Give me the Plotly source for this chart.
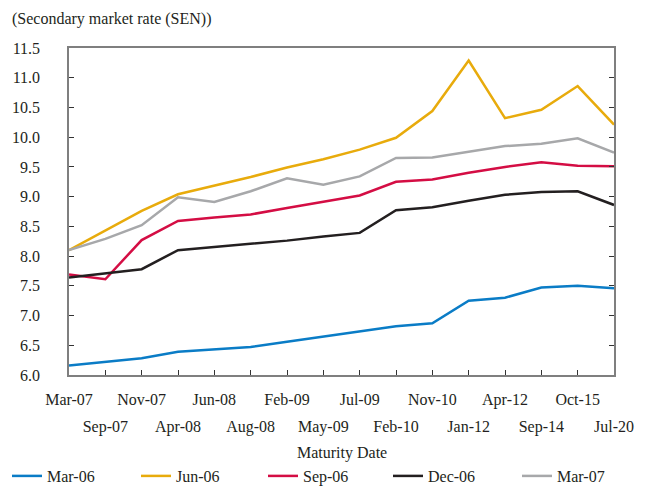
import plotly.graph_objects as go

# Maturity dates of the bonds (x axis categories)
maturities = ["Mar-07", "Sep-07", "Nov-07", "Apr-08", "Jun-08", "Aug-08", "Feb-09", "May-09",
              "Jul-09", "Feb-10", "Nov-10", "Jan-12", "Apr-12", "Sep-14", "Oct-15", "Jul-20"]

# Secondary market rates by observation date
mar06 = [6.16, 6.22, 6.28, 6.39, 6.43, 6.47, 6.56, 6.65, 6.74, 6.82, 6.87, 7.25, 7.30, 7.47, 7.50, 7.46]
jun06 = [8.10, 8.43, 8.76, 9.04, 9.18, 9.33, 9.49, 9.63, 9.79, 9.99, 10.44, 11.29, 10.32, 10.46, 10.86, 10.21]
sep06 = [7.69, 7.61, 8.27, 8.59, 8.65, 8.70, 8.81, 8.92, 9.02, 9.25, 9.29, 9.40, 9.50, 9.58, 9.52, 9.51]
dec06 = [7.64, 7.71, 7.78, 8.10, 8.15, 8.20, 8.26, 8.33, 8.39, 8.77, 8.82, 8.93, 9.03, 9.08, 9.09, 8.86]
mar07 = [8.10, 8.29, 8.52, 8.99, 8.91, 9.09, 9.31, 9.20, 9.34, 9.65, 9.66, 9.76, 9.85, 9.89, 9.98, 9.74]

series = [
    ("Mar-06", mar06, "#0a7cc6"),
    ("Jun-06", jun06, "#e8ab0c"),
    ("Sep-06", sep06, "#d40d44"),
    ("Dec-06", dec06, "#231f20"),
    ("Mar-07", mar07, "#a7a8aa"),
]

# left edge (px) of each legend entry along the bottom row
legend_left_px = [7, 136, 263, 388, 517]

idx = list(range(len(maturities)))
odd_idx = idx[1::2]

FONT = "Liberation Serif, Times New Roman, serif"
TXT = "#231f20"
AX = "#7f7f7f"
W, H = 649, 486
M_L, M_R, M_T, M_B = 69, 35, 48, 111
PLOT_H = H - M_T - M_B

fig = go.Figure()
legend_layout = {}
for k, (name, vals, color) in enumerate(series):
    lg = "legend" if k == 0 else f"legend{k + 1}"
    fig.add_trace(go.Scatter(
        x=idx, y=vals, name=name, mode="lines", legend=lg,
        line=dict(color=color, width=2.5),
    ))
    legend_layout[lg] = dict(
        orientation="h", xref="container", yref="container",
        x=legend_left_px[k] / W, xanchor="left", y=10 / H, yanchor="middle",
        bgcolor="rgba(0,0,0,0)",
        font=dict(family=FONT, size=16, color=TXT),
    )
# empty trace so the second (lower) label row axis is drawn
fig.add_trace(go.Scatter(x=[], y=[], xaxis="x2", showlegend=False, hoverinfo="skip"))

fig.update_layout(
    width=W, height=H,
    margin=dict(l=M_L, r=M_R, t=M_T, b=M_B),
    paper_bgcolor="white", plot_bgcolor="white",
    font=dict(family=FONT, size=16, color=TXT),
    title=dict(text="(Secondary market rate (SEN))", xref="container", yref="container",
               x=12 / W, xanchor="left", y=1 - 18 / H, yanchor="middle",
               font=dict(family=FONT, size=16, color=TXT)),
    showlegend=True,
    xaxis=dict(
        range=[0, len(maturities) - 1], automargin=False,
        tickmode="array", tickvals=idx,
        ticktext=[maturities[i] if i % 2 == 0 else "" for i in idx],
        tickangle=0, ticklabelstandoff=9,
        ticks="inside", ticklen=5, tickcolor="#333", tickwidth=1,
        showline=True, linecolor=AX, linewidth=1.5, mirror=True,
        showgrid=False, zeroline=False,
    ),
    xaxis2=dict(
        overlaying="x", anchor="y", side="bottom", matches="x",
        range=[0, len(maturities) - 1], automargin=False,
        tickmode="array", tickvals=odd_idx, ticktext=[maturities[i] for i in odd_idx],
        tickangle=0, ticklabelstandoff=40, ticks="",
        showline=False, showgrid=False, zeroline=False,
    ),
    yaxis=dict(
        range=[6.0, 11.5], dtick=0.5, tick0=6.0, tickformat=".1f", automargin=False,
        ticks="inside", ticklen=5, tickcolor="#333", tickwidth=1,
        showline=True, linecolor=AX, linewidth=1.5, mirror="ticks",
        showgrid=False, zeroline=False, ticklabelstandoff=24,
    ),
    annotations=[dict(
        text="Maturity Date", xref="paper", x=0.5, xanchor="center",
        yref="paper", y=-(453 - (H - M_B)) / PLOT_H, yanchor="middle", showarrow=False,
        font=dict(family=FONT, size=16, color=TXT),
    )],
    **legend_layout,
)

fig.write_html("out.html")
